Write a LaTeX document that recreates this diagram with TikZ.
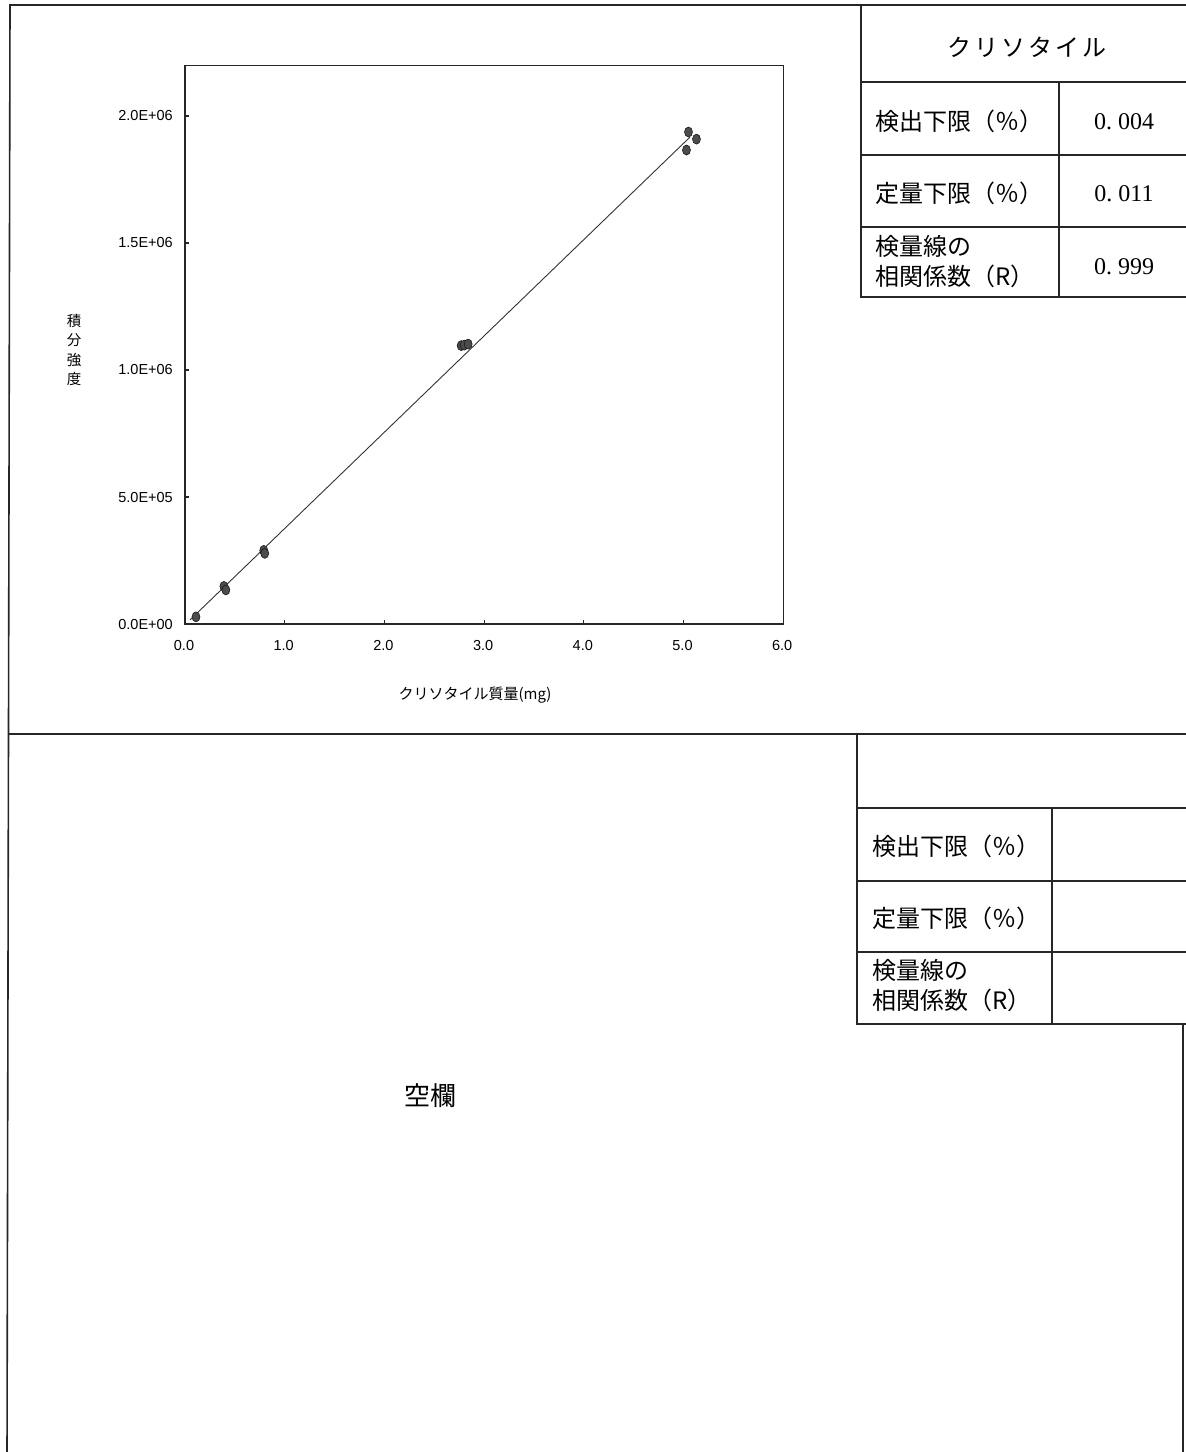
\documentclass[tikz,border=0pt]{standalone}
\usepackage{fontspec}
\setmainfont{Liberation Serif}
\setsansfont{Liberation Sans}
\newfontfamily\jpfont{Noto Sans CJK JP}
\newfontfamily\jphead[LetterSpace=12]{Noto Sans CJK JP}
\usetikzlibrary{positioning}

\begin{document}
\begin{tikzpicture}[x=1pt, y=-1pt,
	frameline/.style={line width=1.6pt, black!85},
	tblline/.style={line width=1.4pt, black!85},
	axisline/.style={line width=1.2pt, black!85},
	fitline/.style={line width=0.9pt, black!80},
	datapt/.style={fill=black!70, draw=black!90, line width=0.6pt},
	ticklbl/.style={font=\sffamily\fontsize{14.5}{16}\selectfont, inner sep=0pt},
	rowlbl/.style={font=\jpfont\fontsize{24}{30}\selectfont, anchor=west, align=left, inner sep=0pt},
	vallbl/.style={font=\rmfamily\fontsize{24}{28}\selectfont, inner sep=0pt}]
	\useasboundingbox (0,0) rectangle (1186,1452);
	\clip (0,0) rectangle (1186,1452);
	% outer frame
	\draw[frameline] (1192,5) -- (10,5) -- (7,1460);
	\draw[frameline] (9,734) -- (1192,734);
	\draw[frameline] (1183,1024) -- (1183,1460);
	% calibration plot
	\begin{scope}[shift={(185,624)}, x=99.7pt, y=254pt]
		\draw[axisline] (0,0) rectangle (6,2.2);
		\foreach \i in {1,...,5}
			\draw[axisline] (\i,0) -- ++(0,4pt);
		\foreach \v in {0.5,1,1.5,2}
			\draw[axisline] (0,\v) -- ++(4pt,0);
		\foreach \i in {0,...,6}
			\node[ticklbl] (xt\i) at (\i,0) [yshift=-21pt, xshift=-1pt] {\i.0};
		\foreach \v/\t in {0/0.0E+00, 0.5/5.0E+05, 1/1.0E+06, 1.5/1.5E+06, 2/2.0E+06}
			\node[ticklbl, anchor=east] at (0,\v) [xshift=-12pt] {\t};
		\draw[fitline] (0.05,0.016) -- (5.065,1.917);
		\foreach \px/\py in {0.11/0.028, 0.39/0.148, 0.41/0.134, 0.79/0.29, 0.80/0.278,
			2.77/1.096, 2.80/1.098, 2.84/1.102, 5.03/1.866, 5.05/1.937, 5.13/1.909}
			\draw[datapt] (\px,\py) ellipse [x radius=4pt, y radius=5pt];
	\end{scope}
	\node[font=\jpfont\fontsize{14.5}{19.5}\selectfont, align=center] (ytitle) at (74,350) {積\\分\\強\\度};
	\node[font=\jpfont\fontsize{15}{18}\selectfont] (xtitle) at (475,695) {クリソタイル質量(mg)};
	% upper table
	\draw[tblline] (861,5) -- (861,297) -- (1192,297);
	\foreach \r in {82,155,227}
		\draw[tblline] (861,\r) -- (1192,\r);
	\draw[tblline] (1059,82) -- (1059,297);
	\node[font=\jphead\fontsize{24}{28}\selectfont] (head) at (1027,47) {クリソタイル};
	\node[rowlbl] (detect) at (875,121) {検出下限（％）};
	\node[rowlbl] (quant) at (875,193) {定量下限（％）};
	\node[rowlbl] (corr) at (875,262) {検量線の\\相関係数（R）};
	\node[vallbl] (detectval) at (1124,122) {0.\ 004};
	\node[vallbl] (quantval) at (1124,194) {0.\ 011};
	\node[vallbl] (corrval) at (1124,267) {0.\ 999};
	% lower table
	\draw[tblline] (857,734) -- (857,1024) -- (1192,1024);
	\foreach \r in {808,881,952}
		\draw[tblline] (857,\r) -- (1192,\r);
	\draw[tblline] (1052,808) -- (1052,1024);
	\node[rowlbl] (detectb) at (872,846) {検出下限（％）};
	\node[rowlbl] (quantb) at (872,918) {定量下限（％）};
	\node[rowlbl] (corrb) at (872,986) {検量線の\\相関係数（R）};
	% empty panel
	\node[font=\jpfont\fontsize{26}{30}\selectfont] (blank) at (430,1096) {空欄};
\end{tikzpicture}
\end{document}
